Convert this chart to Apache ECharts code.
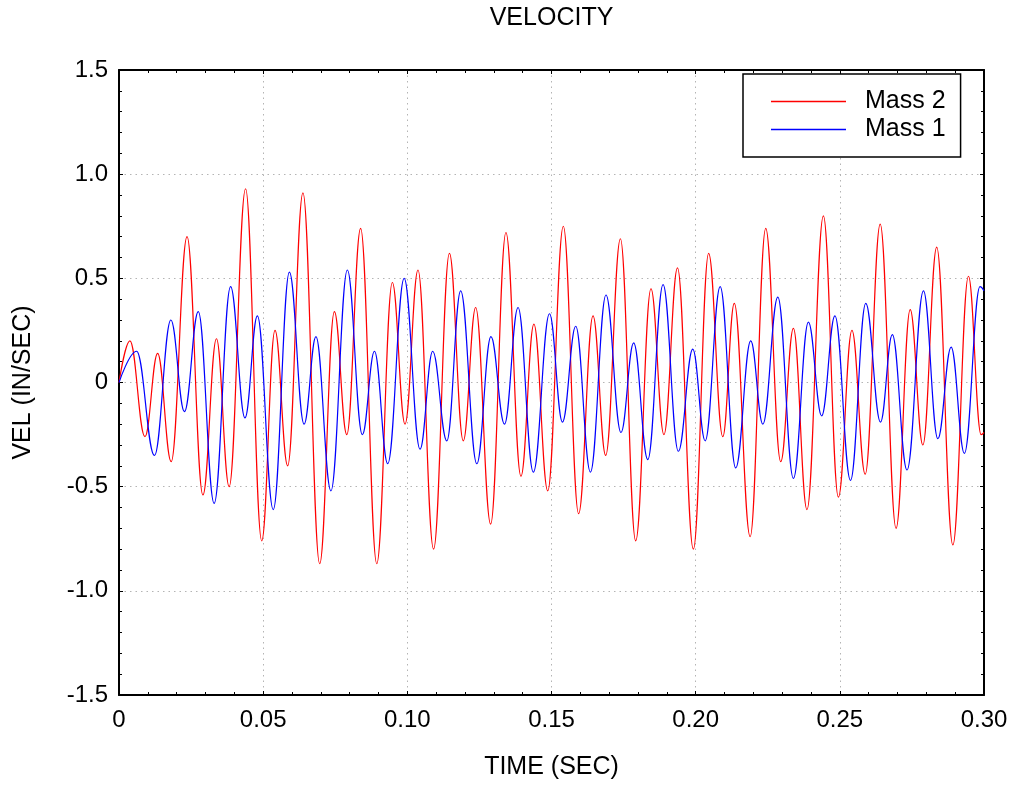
<!DOCTYPE html>
<html>
<head>
<meta charset="utf-8">
<style>
  html, body { margin: 0; padding: 0; background: #fff; }
  #chart { width: 1016px; height: 790px; }
</style>
<script src="https://cdn.jsdelivr.net/npm/echarts@6/dist/echarts.min.js"></script>
</head>
<body>
<div id="chart"></div>
<script>
// peaks / troughs (time in s, velocity in in/s)
const mass2Time = [0, 0.0038, 0.0090, 0.0134, 0.0181, 0.0236, 0.0291, 0.0338, 0.0382, 0.0439,
  0.0495, 0.0541, 0.0585, 0.0638, 0.0696, 0.0747, 0.0790, 0.0838, 0.0894, 0.0948,
  0.0992, 0.1037, 0.1091, 0.1146, 0.1194, 0.1237, 0.1289, 0.1342, 0.1394, 0.1439,
  0.1487, 0.1541, 0.1594, 0.1644, 0.1688, 0.1739, 0.1792, 0.1845, 0.1890, 0.1937,
  0.1992, 0.2045, 0.2094, 0.2134, 0.2189, 0.2243, 0.2295, 0.2339, 0.2386, 0.2443,
  0.2495, 0.2542, 0.2588, 0.2640, 0.2695, 0.2744, 0.2788, 0.2836, 0.2892, 0.2946,
  0.2990, 0.3000];
const mass2Vel = [0, 0.20, -0.26, 0.14, -0.38, 0.70, -0.54, 0.21, -0.50, 0.93,
  -0.76, 0.25, -0.40, 0.91, -0.87, 0.34, -0.25, 0.74, -0.87, 0.48,
  -0.20, 0.54, -0.80, 0.62, -0.28, 0.36, -0.68, 0.72, -0.45, 0.28,
  -0.52, 0.75, -0.63, 0.32, -0.35, 0.69, -0.76, 0.45, -0.25, 0.55,
  -0.80, 0.62, -0.26, 0.38, -0.74, 0.74, -0.38, 0.26, -0.61, 0.80,
  -0.55, 0.25, -0.44, 0.76, -0.70, 0.35, -0.30, 0.65, -0.78, 0.51,
  -0.25, -0.24];

const mass1Time = [0, 0.0061, 0.0123, 0.0180, 0.0227, 0.0275, 0.0330, 0.0387, 0.0437, 0.0480,
  0.0535, 0.0591, 0.0642, 0.0683, 0.0735, 0.0792, 0.0844, 0.0886, 0.0932, 0.0989,
  0.1044, 0.1088, 0.1137, 0.1185, 0.1241, 0.1290, 0.1337, 0.1384, 0.1437, 0.1493,
  0.1538, 0.1584, 0.1635, 0.1689, 0.1741, 0.1785, 0.1834, 0.1887, 0.1940, 0.1990,
  0.2033, 0.2085, 0.2139, 0.2191, 0.2233, 0.2285, 0.2339, 0.2391, 0.2437, 0.2483,
  0.2537, 0.2590, 0.2641, 0.2682, 0.2733, 0.2790, 0.2840, 0.2886, 0.2932, 0.2986,
  0.3000];
const mass1Vel = [0, 0.15, -0.35, 0.30, -0.14, 0.34, -0.58, 0.46, -0.17, 0.32,
  -0.61, 0.53, -0.20, 0.22, -0.52, 0.54, -0.25, 0.15, -0.39, 0.50,
  -0.32, 0.15, -0.28, 0.44, -0.39, 0.22, -0.20, 0.36, -0.43, 0.33,
  -0.19, 0.27, -0.43, 0.42, -0.24, 0.19, -0.37, 0.47, -0.33, 0.16,
  -0.28, 0.46, -0.41, 0.20, -0.20, 0.41, -0.46, 0.29, -0.16, 0.32,
  -0.47, 0.38, -0.19, 0.23, -0.42, 0.44, -0.27, 0.17, -0.34, 0.46,
  0.44];

const seriesNames = ['Mass 2', 'Mass 1'];
const xTicks = { min: 0, max: 0.3, step: 0.05 };
const yTicks = { min: -1.5, max: 1.5, step: 0.5 };

const FONT = '"Liberation Sans", Arial, sans-serif';

const pairs = (xs, ys) => xs.map((x, i) => [x, ys[i]]);

const chart = echarts.init(document.getElementById('chart'));

const gridLine = { show: true, lineStyle: { color: '#b4b4b4', type: [1.5, 4], width: 1 } };

const baseAxis = {
  axisLine: { show: true, onZero: false, lineStyle: { color: '#000', width: 2 } },
  axisTick: { show: true, inside: true, length: 4, lineStyle: { color: '#000', width: 1 } },
  minorTick: { show: true, splitNumber: 5, length: 3, lineStyle: { color: '#000', width: 1 } },
  splitLine: { show: false },
};

chart.setOption({
  animation: false,
  backgroundColor: '#fff',
  grid: { left: 119, right: 32, top: 70, bottom: 95, containLabel: false },
  graphic: [
    {
      type: 'text',
      x: 551.5,
      y: 18,
      style: {
        text: 'VELOCITY',
        textAlign: 'center',
        textVerticalAlign: 'middle',
        font: '25px ' + FONT,
        fill: '#000',
      },
    },
  ],
  legend: {
    data: seriesNames,
    orient: 'vertical',
    left: 743,
    top: 74,
    padding: [15, 15, 15, 28],
    itemGap: 3,
    itemWidth: 75,
    itemHeight: 1.5,
    icon: 'rect',
    backgroundColor: '#fff',
    borderColor: '#000',
    borderWidth: 1.5,
    borderRadius: 0,
    textStyle: { fontFamily: FONT, fontSize: 25, color: '#000', lineHeight: 25, padding: [0, 0, 0, 14] },
  },
  xAxis: [
    {
      ...baseAxis,
      type: 'value',
      position: 'bottom',
      min: xTicks.min,
      max: xTicks.max,
      interval: xTicks.step,
      name: 'TIME (SEC)',
      nameLocation: 'middle',
      nameGap: 60,
      nameTextStyle: { fontFamily: FONT, fontSize: 25, color: '#000' },
      axisLabel: {
        margin: 13,
        fontFamily: FONT,
        fontSize: 24,
        color: '#000',
        formatter: (v) => (Math.abs(v) < 1e-9 ? '0' : v.toFixed(2)),
      },
      splitLine: gridLine,
    },
    {
      ...baseAxis,
      type: 'value',
      position: 'top',
      min: xTicks.min,
      max: xTicks.max,
      interval: xTicks.step,
      axisLabel: { show: false },
    },
  ],
  yAxis: [
    {
      ...baseAxis,
      type: 'value',
      position: 'left',
      min: yTicks.min,
      max: yTicks.max,
      interval: yTicks.step,
      name: 'VEL (IN/SEC)',
      nameLocation: 'middle',
      nameGap: 83,
      nameTextStyle: { fontFamily: FONT, fontSize: 25, color: '#000' },
      axisLabel: {
        margin: 11,
        fontFamily: FONT,
        fontSize: 24,
        color: '#000',
        formatter: (v) => (Math.abs(v) < 1e-9 ? '0' : v.toFixed(1)),
      },
      splitLine: gridLine,
    },
    {
      ...baseAxis,
      type: 'value',
      position: 'right',
      min: yTicks.min,
      max: yTicks.max,
      interval: yTicks.step,
      axisLabel: { show: false },
    },
  ],
  series: [
    {
      name: seriesNames[0],
      type: 'line',
      data: pairs(mass2Time, mass2Vel),
      showSymbol: false,
      smooth: 0.4,
      smoothMonotone: 'x',
      color: '#ff0000',
      lineStyle: { color: '#ff0000', width: 1.2 },
    },
    {
      name: seriesNames[1],
      type: 'line',
      data: pairs(mass1Time, mass1Vel),
      showSymbol: false,
      smooth: 0.4,
      smoothMonotone: 'x',
      color: '#0000ff',
      lineStyle: { color: '#0000ff', width: 1.2 },
    },
  ],
});

window.addEventListener('resize', () => chart.resize());
</script>
</body>
</html>
